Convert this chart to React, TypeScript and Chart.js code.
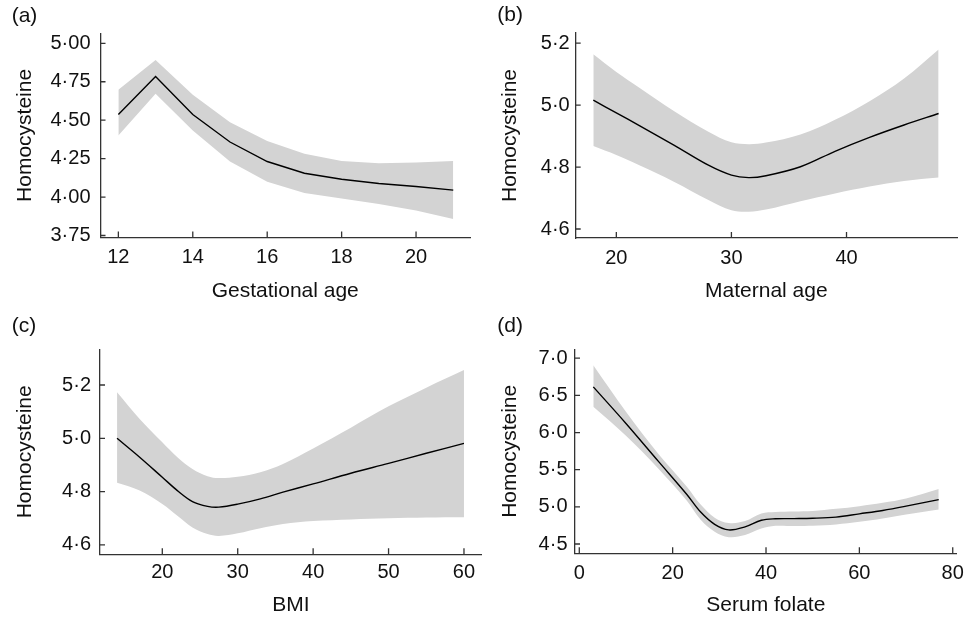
import React, { useEffect, useRef } from "react";
import { Chart, registerables } from "chart.js";

Chart.register(...registerables);

// ---------- (a) Gestational age ----------
const gaX = [12, 13, 14, 15, 16, 17, 18, 19, 20, 21];
const gaFit = [4.537, 4.784, 4.537, 4.358, 4.231, 4.155, 4.116, 4.088, 4.069, 4.045];
const gaUpper = [4.698, 4.892, 4.666, 4.487, 4.364, 4.282, 4.235, 4.22, 4.224, 4.235];
const gaLower = [4.401, 4.672, 4.433, 4.231, 4.099, 4.026, 3.991, 3.955, 3.912, 3.858];
const gaXTicks = [12, 14, 16, 18, 20];
const gaYTicks = [3.75, 4.0, 4.25, 4.5, 4.75, 5.0];

// ---------- (b) Maternal age ----------
const maX = [18, 20, 22, 25, 28, 30, 31.5, 33, 36, 39, 42, 45, 48];
const maFit = [5.016, 4.975, 4.934, 4.871, 4.806, 4.774, 4.766, 4.772, 4.801, 4.851, 4.896, 4.936, 4.973];
const maUpper = [5.164, 5.107, 5.056, 4.981, 4.914, 4.88, 4.874, 4.879, 4.905, 4.953, 5.013, 5.086, 5.18];
const maLower = [4.868, 4.839, 4.806, 4.753, 4.694, 4.661, 4.656, 4.663, 4.69, 4.715, 4.737, 4.755, 4.766];
const maXTicks = [20, 30, 40];
const maYTicks = [4.6, 4.8, 5.0, 5.2];

// ---------- (c) BMI ----------
const bmiX = [14, 17, 20, 22, 24, 26, 27.5, 30, 33, 36, 40, 45, 50, 55, 60];
const bmiFit = [5.0, 4.929, 4.854, 4.804, 4.763, 4.745, 4.742, 4.753, 4.773, 4.798, 4.829, 4.869, 4.906, 4.944, 4.981];
const bmiUpper = [5.173, 5.073, 4.985, 4.929, 4.885, 4.858, 4.851, 4.856, 4.873, 4.904, 4.962, 5.04, 5.12, 5.19, 5.256];
const bmiLower = [4.833, 4.804, 4.754, 4.71, 4.666, 4.641, 4.634, 4.644, 4.663, 4.679, 4.69, 4.696, 4.7, 4.703, 4.704];
const bmiXTicks = [20, 30, 40, 50, 60];
const bmiYTicks = [4.6, 4.8, 5.0, 5.2];

// ---------- (d) Serum folate ----------
const folX = [3, 10, 17, 23, 26, 29, 32, 35.5, 39, 42, 46, 50, 55, 60, 65, 70, 77];
const folFit = [6.614, 6.122, 5.608, 5.17, 4.93, 4.765, 4.69, 4.73, 4.82, 4.84, 4.842, 4.846, 4.862, 4.906, 4.951, 5.009, 5.098];
const folUpper = [6.905, 6.279, 5.707, 5.275, 5.03, 4.855, 4.783, 4.808, 4.91, 4.93, 4.937, 4.944, 4.973, 5.009, 5.054, 5.112, 5.241];
const folLower = [6.346, 5.957, 5.51, 5.085, 4.826, 4.665, 4.592, 4.62, 4.708, 4.745, 4.742, 4.745, 4.763, 4.799, 4.843, 4.897, 4.964];
const folXTicks = [0, 20, 40, 60, 80];
const folYTicks = [4.5, 5.0, 5.5, 6.0, 6.5, 7.0];

const FONT = "'Liberation Sans', Arial, sans-serif";
const TXT = "#111111";
const AXIS = "#333333";
const BAND = "#d3d3d3";

const dot = (v: number, d: number) => v.toFixed(d).replace(".", "\u00B7");

type Spec = {
  label: string;
  xTitle: string;
  x: number[];
  fit: number[];
  upper: number[];
  lower: number[];
  xTicks: number[];
  yTicks: number[];
  yDec: number;
  xMin: number;
  xMax: number;
  yMin: number;
  yMax: number;
  curved: boolean;
  pl: number; pt: number; w: number; h: number;
  left: number; right: number; top: number; bottom: number;
  padL: number; tTop: number; yTitlePad: number; xTitlePad: number;
  yTickPad: number; xTickPad: number;
};

const inwardTicks = {
  id: "inwardTicks",
  afterDraw(chart: any) {
    const ctx = chart.ctx;
    const xs = chart.scales.x;
    const ys = chart.scales.y;
    ctx.save();
    ctx.strokeStyle = AXIS;
    ctx.lineWidth = 1.3;
    ctx.beginPath();
    ys.ticks.forEach((t: any) => {
      const p = ys.getPixelForValue(t.value);
      ctx.moveTo(ys.right, p);
      ctx.lineTo(ys.right + 5, p);
    });
    xs.ticks.forEach((t: any) => {
      const p = xs.getPixelForValue(t.value);
      ctx.moveTo(p, xs.top);
      ctx.lineTo(p, xs.top - 6);
    });
    ctx.stroke();
    ctx.restore();
  },
};

function Panel({ s }: { s: Spec }) {
  const ref = useRef<HTMLCanvasElement | null>(null);
  useEffect(() => {
    if (!ref.current) return;
    const interp = { tension: s.curved ? 0.35 : 0 };
    const chart = new Chart(ref.current, {
      type: "line",
      data: {
        datasets: [
          {
            data: s.x.map((x, i) => ({ x, y: s.fit[i] })),
            borderColor: "#000000",
            borderWidth: 1.4,
            pointRadius: 0,
            fill: false,
            ...interp,
          },
          {
            data: s.x.map((x, i) => ({ x, y: s.lower[i] })),
            borderColor: "rgba(0,0,0,0)",
            borderWidth: 0,
            pointRadius: 0,
            fill: false,
            ...interp,
          },
          {
            data: s.x.map((x, i) => ({ x, y: s.upper[i] })),
            borderColor: "rgba(0,0,0,0)",
            backgroundColor: BAND,
            borderWidth: 0,
            pointRadius: 0,
            fill: "-1",
            ...interp,
          },
        ],
      },
      options: {
        animation: false,
        responsive: false,
        devicePixelRatio: 1,
        events: [],
        layout: {
          padding: { left: s.padL, right: s.w - s.right, top: 0, bottom: 0 },
        },
        plugins: {
          legend: { display: false },
          tooltip: { enabled: false },
          title: {
            display: true,
            text: s.label,
            align: "start",
            color: TXT,
            font: { family: FONT, size: 21, weight: "normal", lineHeight: 1.2 },
            padding: { top: s.tTop, bottom: s.top - s.tTop - 25.2 },
          },
        },
        scales: {
          x: {
            type: "linear",
            min: s.xMin,
            max: s.xMax,
            grid: { display: true, drawOnChartArea: false, drawTicks: false },
            border: { display: true, color: AXIS, width: 1.3 },
            ticks: {
              color: TXT,
              padding: s.xTickPad,
              font: { family: FONT, size: 20 },
              callback: (v: any) => String(v),
            },
            afterBuildTicks: (sc: any) => {
              sc.ticks = s.xTicks.map((v) => ({ value: v }));
            },
            afterFit: (sc: any) => {
              sc.height = s.h - s.bottom;
              sc.paddingLeft = 0;
              sc.paddingRight = 0;
            },
            title: {
              display: true,
              text: s.xTitle,
              color: TXT,
              font: { family: FONT, size: 21, lineHeight: 1.2 },
              padding: { top: 0, bottom: s.xTitlePad },
            },
          },
          y: {
            type: "linear",
            min: s.yMin,
            max: s.yMax,
            grid: { display: true, drawOnChartArea: false, drawTicks: false },
            border: { display: true, color: AXIS, width: 1.3 },
            ticks: {
              color: TXT,
              padding: s.yTickPad,
              font: { family: FONT, size: 20 },
              callback: (v: any) => dot(Number(v), s.yDec),
            },
            afterBuildTicks: (sc: any) => {
              sc.ticks = s.yTicks.map((v) => ({ value: v }));
            },
            afterFit: (sc: any) => {
              sc.width = s.left - s.padL;
              sc.paddingTop = 0;
              sc.paddingBottom = 0;
            },
            title: {
              display: true,
              text: "Homocysteine",
              color: TXT,
              font: { family: FONT, size: 21, lineHeight: 1.2 },
              padding: { top: s.yTitlePad, bottom: 0 },
            },
          },
        },
      },
      plugins: [inwardTicks],
    } as any);
    return () => chart.destroy();
  }, []);
  return (
    <div
      style={{
        position: "absolute",
        left: s.pl,
        top: s.pt,
        width: s.w,
        height: s.h,
      }}
    >
      <canvas
        ref={ref}
        width={s.w}
        height={s.h}
        style={{ display: "block", width: s.w, height: s.h }}
      />
    </div>
  );
}

const specs: Spec[] = [
  {
    label: "(a)", xTitle: "Gestational age",
    x: gaX, fit: gaFit, upper: gaUpper, lower: gaLower,
    xTicks: gaXTicks, yTicks: gaYTicks, yDec: 2,
    xMin: 11.52, xMax: 21.45, yMin: 3.737, yMax: 5.065, curved: false,
    pl: 0, pt: 0, w: 484, h: 310,
    left: 100.5, right: 470, top: 33.3, bottom: 237.5,
    padL: 11.7, tTop: 4.1, yTitlePad: 1.2, xTitlePad: 5.7, yTickPad: 10, xTickPad: 8,
  },
  {
    label: "(b)", xTitle: "Maternal age",
    x: maX, fit: maFit, upper: maUpper, lower: maLower,
    xTicks: maXTicks, yTicks: maYTicks, yDec: 1,
    xMin: 16.47, xMax: 49.6, yMin: 4.571, yMax: 5.233, curved: true,
    pl: 484, pt: 0, w: 484, h: 310,
    left: 91.7, right: 473, top: 33, bottom: 238,
    padL: 13.3, tTop: 2.4, yTitlePad: 0.1, xTitlePad: 5.7, yTickPad: 6, xTickPad: 8,
  },
  {
    label: "(c)", xTitle: "BMI",
    x: bmiX, fit: bmiFit, upper: bmiUpper, lower: bmiLower,
    xTicks: bmiXTicks, yTicks: bmiYTicks, yDec: 1,
    xMin: 11.74, xMax: 62.35, yMin: 4.565, yMax: 5.334, curved: true,
    pl: 0, pt: 310, w: 484, h: 309,
    left: 100, right: 481.7, top: 39.3, bottom: 244.3,
    padL: 11.7, tTop: 3.4, yTitlePad: 0.7, xTitlePad: 1.4, yTickPad: 9, xTickPad: 6,
  },
  {
    label: "(d)", xTitle: "Serum folate",
    x: folX, fit: folFit, upper: folUpper, lower: folLower,
    xTicks: folXTicks, yTicks: folYTicks, yDec: 1,
    xMin: -0.92, xMax: 80.85, yMin: 4.375, yMax: 7.12, curved: true,
    pl: 484, pt: 310, w: 484, h: 309,
    left: 91, right: 472.7, top: 39.3, bottom: 243.3,
    padL: 13.3, tTop: 3.4, yTitlePad: 0, xTitlePad: 1.4, yTickPad: 7.5, xTickPad: 8,
  },
];

export default function App() {
  return (
    <div
      style={{
        position: "absolute",
        left: 0,
        top: 0,
        width: 968,
        height: 619,
        background: "#ffffff",
        overflow: "hidden",
      }}
    >
      {specs.map((s) => (
        <Panel key={s.label} s={s} />
      ))}
    </div>
  );
}
